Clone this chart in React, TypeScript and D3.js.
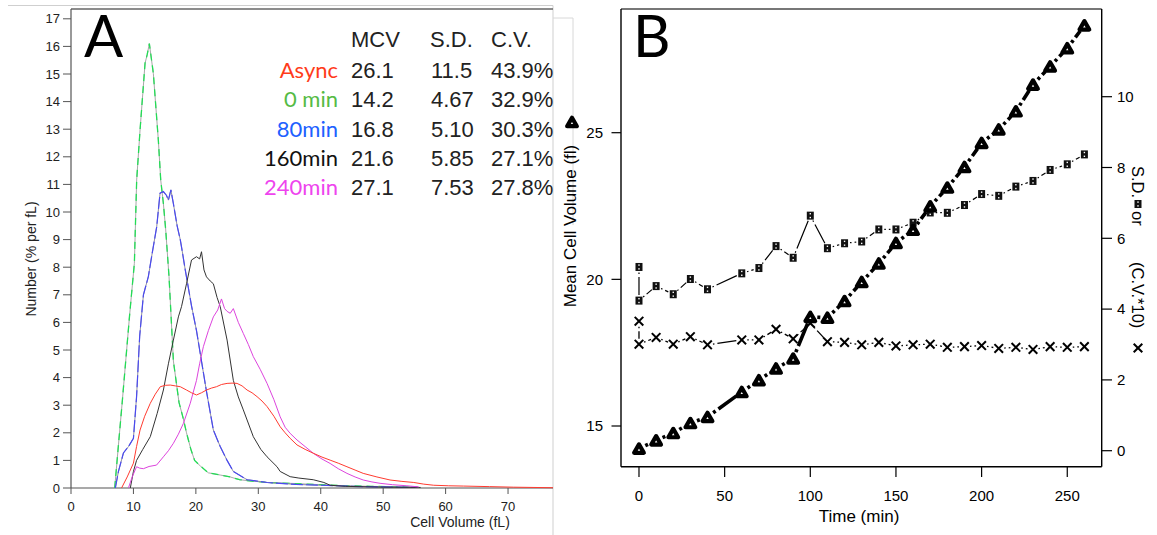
import React from "react";
import * as d3 from "d3";

// ---------- Panel A data: cell volume distributions (fL, % per fL) ----------
const asyncCurve: [number, number][] = [
  [8.1, 0], [9.0, 0.4], [10, 0.9], [10.5, 1.5], [11.06, 2.1], [11.8, 2.6], [12.7, 3.07], [13.5, 3.4],
  [14.3, 3.67], [15.1, 3.72], [15.9, 3.73], [16.7, 3.7], [17.5, 3.67], [18.5, 3.55], [19.3, 3.45],
  [20.1, 3.37], [20.9, 3.45], [21.7, 3.55], [22.5, 3.62], [23.3, 3.67], [24.1, 3.75], [25, 3.79],
  [25.8, 3.8], [26.6, 3.79], [27.4, 3.7], [28.2, 3.55], [29, 3.45], [29.8, 3.31], [30.6, 3.15],
  [31.4, 2.95], [32.5, 2.6], [33.5, 2.22], [34.3, 2.0], [35.1, 1.8], [36.2, 1.56], [37.5, 1.4],
  [38.8, 1.26], [40.2, 1.12], [41.5, 1.01], [42.8, 0.9], [44.2, 0.77], [45.5, 0.65], [46.8, 0.53],
  [49, 0.4], [51.1, 0.29], [53, 0.24], [54.9, 0.2], [56.5, 0.14], [58.1, 0.1], [60.5, 0.08],
  [62.9, 0.07], [67, 0.05], [70.9, 0.03], [74, 0.02], [77.2, 0.01],
];
const min0Curve: [number, number][] = [
  [7.0, 0], [7.6, 1.56], [8.2, 3.1], [8.8, 4.7], [9.4, 6.3], [10.15, 8.14], [10.52, 11.16],
  [11.06, 12.97], [11.5, 14.3], [11.86, 15.39], [12.2, 15.7], [12.55, 16.1], [13.19, 15.02],
  [13.99, 12.6], [14.37, 11.16], [14.8, 10.3], [15.17, 9.35], [15.7, 7.66], [16.4, 4.6], [17.3, 3.1],
  [18.0, 2.5], [18.5, 2.0], [19.2, 1.4], [19.8, 1.0], [20.7, 0.8], [22.0, 0.55], [23.9, 0.47],
  [25.5, 0.4], [27, 0.3], [29, 0.25], [31.4, 0.2], [34, 0.18], [37, 0.15], [40, 0.12], [44, 0.08],
  [48, 0.06], [52, 0.04], [55.5, 0.03],
];
const min80Curve: [number, number][] = [
  [7.1, 0], [7.6, 0.6], [8.4, 1.27], [9.2, 1.5], [10.0, 1.8], [10.5, 3.3], [11.0, 5.5], [11.6, 7.0],
  [12.39, 7.66], [13.0, 8.5], [13.73, 9.47], [14.26, 10.68], [14.8, 10.74], [15.3, 10.6], [15.6, 10.43],
  [16.0, 10.8], [16.4, 10.3], [17.0, 9.5], [17.5, 9.0], [17.8, 8.6], [18.3, 7.9], [19.3, 6.6],
  [20.1, 5.7], [20.9, 4.6], [21.7, 3.5], [22.8, 2.1], [23.9, 1.5], [25, 1.0], [26, 0.6], [28.2, 0.3],
  [31.4, 0.2], [36, 0.13], [40, 0.1], [45, 0.06], [50, 0.04], [55.5, 0.02],
];
const min160Curve: [number, number][] = [
  [9.5, 0], [10.0, 0.6], [10.5, 1.0], [11.5, 1.4], [12.7, 1.86], [13.8, 2.7], [14.8, 3.55], [15.6, 4.5],
  [16.4, 5.36], [17.2, 6.2], [17.7, 6.57], [18.5, 7.4], [19.3, 8.26], [20.1, 8.38], [20.6, 8.3],
  [20.9, 8.56], [21.3, 7.9], [21.7, 7.65], [22.3, 7.5], [22.8, 7.4], [23.4, 6.9], [23.9, 6.57],
  [25, 5.36], [26, 3.9], [26.8, 3.3], [27.6, 2.83], [29.2, 1.86], [30.4, 1.4], [31.4, 1.13], [33, 0.77],
  [33.5, 0.6], [35.1, 0.41], [36.5, 0.36], [38.8, 0.3], [40.5, 0.2], [41.5, 0.1], [44, 0.06], [50, 0.03],
  [56, 0.02],
];
const min240Curve: [number, number][] = [
  [9.2, 0], [9.8, 0.4], [10.5, 0.77], [11.0, 0.72], [11.6, 0.7], [12.5, 0.78], [13.7, 0.83], [14.8, 1.13],
  [15.6, 1.35], [16.4, 1.62], [17.2, 1.95], [18.0, 2.34], [19.1, 3.07], [20.1, 3.9], [20.6, 4.5],
  [21.2, 5.12], [22.0, 5.7], [22.8, 6.2], [23.5, 6.45], [24.1, 6.85], [24.6, 6.5], [25.0, 6.4],
  [25.5, 6.33], [26.0, 6.5], [26.8, 6.0], [27.6, 5.6], [28.4, 5.2], [29.2, 4.76], [30.3, 4.3],
  [31.4, 3.79], [32.5, 3.2], [33.5, 2.58], [34.3, 2.2], [35.1, 1.98], [36.2, 1.74], [37.5, 1.5],
  [38.8, 1.26], [40.2, 1.05], [41.5, 0.89], [42.8, 0.7], [44.2, 0.53], [45.5, 0.4], [46.8, 0.29],
  [48.2, 0.22], [49.5, 0.17], [51.5, 0.12], [53.8, 0.08], [55.7, 0.04],
];

const groupLabels = ["Async", "0 min", "80min", "160min", "240min"];
const groupColors = ["#ff3b1a", "#55bb44", "#2060ff", "#111111", "#ee44ee"];
const tableHeaders = ["MCV", "S.D.", "C.V."];
const mcvTable = ["26.1", "14.2", "16.8", "21.6", "27.1"];
const sdTable = ["11.5", "4.67", "5.10", "5.85", "7.53"];
const cvTable = ["43.9%", "32.9%", "30.3%", "27.1%", "27.8%"];

const xTicksA = [0, 10, 20, 30, 40, 50, 60, 70];
const yTicksA = d3.range(0, 18);

// ---------- Panel B data: time course ----------
const mcvTimes = [0, 10, 20, 30, 40, 60, 70, 80, 90, 100, 110, 120, 130, 140, 150, 160, 170, 180, 190, 200, 210, 220, 230, 240, 250, 260];
const mcvValues = [14.23, 14.51, 14.76, 15.1, 15.31, 16.16, 16.56, 16.96, 17.3, 18.72, 18.69, 19.26, 19.91, 20.54, 21.24, 21.69, 22.49, 23.13, 23.83, 24.65, 25.11, 25.73, 26.64, 27.26, 27.88, 28.66];
const sdTimes = [0, 0, 10, 20, 30, 40, 60, 70, 80, 90, 100, 110, 120, 130, 140, 150, 160, 170, 180, 190, 200, 210, 220, 230, 240, 250, 260];
const sdValues = [5.19, 4.24, 4.65, 4.42, 4.85, 4.56, 5.01, 5.16, 5.78, 5.45, 6.64, 5.72, 5.86, 5.91, 6.25, 6.25, 6.44, 6.73, 6.72, 6.94, 7.25, 7.2, 7.46, 7.62, 7.93, 8.09, 8.37];
const cv10Values = [3.66, 3.01, 3.2, 3.01, 3.22, 2.99, 3.13, 3.13, 3.43, 3.16, 3.6, 3.08, 3.06, 2.99, 3.06, 2.96, 2.99, 3.01, 2.92, 2.94, 2.97, 2.89, 2.92, 2.86, 2.94, 2.92, 2.94];

const xTicksB = [0, 50, 100, 150, 200, 250];
const yTicksBLeft = [15, 20, 25];
const yTicksBRight = [0, 2, 4, 6, 8, 10];

const SANS = "'Liberation Sans', Arial, sans-serif";
const GILL = "Lato, 'Open Sans', sans-serif";

type P = { x: number; y: number };

function gappedSegments(pts: P[], gap: number) {
  const out: { x1: number; y1: number; x2: number; y2: number }[] = [];
  for (let i = 0; i < pts.length - 1; i++) {
    const a = pts[i], b = pts[i + 1];
    const dx = b.x - a.x, dy = b.y - a.y;
    const len = Math.hypot(dx, dy);
    if (len <= 2 * gap + 0.5) continue;
    const ux = dx / len, uy = dy / len;
    out.push({ x1: a.x + ux * gap, y1: a.y + uy * gap, x2: b.x - ux * gap, y2: b.y - uy * gap });
  }
  return out;
}

function Triangle({ x, y }: { x: number; y: number }) {
  const r = 5.6;
  const cy = y + 1.4;
  const pts = [
    [x, cy - r],
    [x + r * 0.866, cy + r * 0.5],
    [x - r * 0.866, cy + r * 0.5],
  ];
  return (
    <polygon
      points={pts.map((p) => p.join(",")).join(" ")}
      fill="none"
      stroke="#000"
      strokeWidth={4.2}
      strokeLinejoin="round"
    />
  );
}

function SquareMark({ x, y }: { x: number; y: number }) {
  const w = 7, h = 8;
  return (
    <g>
      <rect x={x - w / 2} y={y - h / 2} width={w} height={h} fill="#111" />
      <rect x={x - 0.7} y={y - 2.6} width={1.4} height={1.4} fill="#fff" />
      <rect x={x - 0.7} y={y + 1.2} width={1.4} height={1.4} fill="#fff" />
    </g>
  );
}

function Cross({ x, y }: { x: number; y: number }) {
  const h = 4.3;
  return (
    <g stroke="#000" strokeWidth={2}>
      <line x1={x - h} y1={y - h} x2={x + h} y2={y + h} />
      <line x1={x + h} y1={y - h} x2={x - h} y2={y + h} />
    </g>
  );
}

export default function App() {
  // Panel A scales
  const xA = d3.scaleLinear().domain([0, 77.2]).range([71, 553]);
  const yA = d3.scaleLinear().domain([0, 17]).range([488, 18.8]);
  const lineA = d3
    .line<[number, number]>()
    .x((d) => xA(d[0]))
    .y((d) => yA(d[1]));

  // Panel B scales
  const xB = d3.scaleLinear().domain([-10.5, 270.1]).range([621, 1101.7]);
  const yBL = d3.scaleLinear().domain([15, 25]).range([426, 132.7]);
  const yBR = d3.scaleLinear().domain([0, 10]).range([450.7, 96.7]);

  const mcvPts = mcvTimes.map((t, i) => ({ x: xB(t), y: yBL(mcvValues[i]) }));
  const sdPts = sdTimes.map((t, i) => ({ x: xB(t), y: yBR(sdValues[i]) }));
  const cvPts = sdTimes.map((t, i) => ({ x: xB(t), y: yBR(cv10Values[i]) }));

  const rowBase = [78, 107, 136.5, 166, 195];

  return (
    <svg
      width={1157}
      height={535}
      style={{ position: "absolute", left: 0, top: 0, background: "#fff" }}
    >
      <rect x={0} y={0} width={1157} height={535} fill="#fff" />

      {/* ---------------- Panel A ---------------- */}
      <line x1={8} y1={5.5} x2={553} y2={5.5} stroke="#cfcfcf" strokeWidth={1} />
      <line x1={553} y1={5.5} x2={553} y2={535} stroke="#cfcfcf" strokeWidth={1} />
      <line x1={553} y1={18} x2={573} y2={18} stroke="#d8d8d8" strokeWidth={1} />
      <line x1={573} y1={18} x2={573} y2={225} stroke="#d8d8d8" strokeWidth={1} />
      <line x1={71} y1={9} x2={553} y2={9} stroke="#666" strokeWidth={1.5} />
      <line x1={71} y1={9} x2={71} y2={488} stroke="#555" strokeWidth={1.2} />
      <line x1={71} y1={488} x2={553} y2={488} stroke="#555" strokeWidth={1.2} />

      {yTicksA.map((t) => (
        <g key={"ya" + t}>
          <line x1={63} x2={71} y1={yA(t)} y2={yA(t)} stroke="#555" />
          <text x={60} y={yA(t)} dy="0.35em" textAnchor="end" fontFamily={SANS} fontSize={13} fill="#222">
            {t}
          </text>
        </g>
      ))}
      {xTicksA.map((t) => (
        <g key={"xa" + t}>
          <line x1={xA(t)} x2={xA(t)} y1={488} y2={494} stroke="#555" />
          <text x={xA(t)} y={511} textAnchor="middle" fontFamily={SANS} fontSize={13} fill="#222">
            {t}
          </text>
        </g>
      ))}
      <text x={460} y={527} textAnchor="middle" fontFamily={SANS} fontSize={14} fill="#222">
        Cell Volume (fL)
      </text>
      <text
        transform="translate(36,259) rotate(-90)"
        textAnchor="middle"
        fontFamily={SANS}
        fontSize={14}
        fill="#222"
      >
        Number (% per fL)
      </text>

      {/* curves */}
      <path d={lineA(min0Curve) || ""} fill="none" stroke="#a8a8a8" strokeWidth={1} />
      <path d={lineA(min0Curve) || ""} fill="none" stroke="#22dd55" strokeWidth={1.3} strokeDasharray="7,5" />
      <path d={lineA(min80Curve) || ""} fill="none" stroke="#9090a0" strokeWidth={1} />
      <path d={lineA(min80Curve) || ""} fill="none" stroke="#4a4af0" strokeWidth={1.2} strokeDasharray="12,3" />
      <path d={lineA(min160Curve) || ""} fill="none" stroke="#333" strokeWidth={1} />
      <path d={lineA(min240Curve) || ""} fill="none" stroke="#dd44dd" strokeWidth={1} />
      <path d={lineA(asyncCurve) || ""} fill="none" stroke="#ff3b30" strokeWidth={1} />

      {/* letter A */}
      <text x={84} y={57} fontFamily={GILL} fontSize={58} fill="#000">
        A
      </text>

      {/* table */}
      {tableHeaders.map((h, i) => (
        <text key={h} x={[351, 430, 491][i]} y={47} fontFamily={SANS} fontSize={22} fill="#222">
          {h}
        </text>
      ))}
      {groupLabels.map((g, i) => (
        <g key={g}>
          <text x={338} y={rowBase[i]} textAnchor="end" fontFamily={GILL} fontSize={22} fill={groupColors[i]}>
            {g}
          </text>
          <text x={351} y={rowBase[i]} fontFamily={SANS} fontSize={22} fill="#222">
            {mcvTable[i]}
          </text>
          <text x={431} y={rowBase[i]} fontFamily={SANS} fontSize={22} fill="#222">
            {sdTable[i]}
          </text>
          <text x={491} y={rowBase[i]} fontFamily={SANS} fontSize={22} fill="#222">
            {cvTable[i]}
          </text>
        </g>
      ))}

      {/* ---------------- Panel B ---------------- */}
      <line x1={621} y1={9} x2={1101.7} y2={9} stroke="#777" strokeWidth={2} />
      <line x1={621} y1={9} x2={621} y2={466.7} stroke="#000" strokeWidth={1.4} />
      <line x1={1101.7} y1={9} x2={1101.7} y2={466.7} stroke="#000" strokeWidth={1.4} />
      <line x1={621} y1={466.7} x2={1101.7} y2={466.7} stroke="#000" strokeWidth={1.4} />

      {xTicksB.map((t) => (
        <g key={"xb" + t}>
          <line x1={xB(t)} x2={xB(t)} y1={466.7} y2={477} stroke="#000" strokeWidth={1.2} />
          <text x={xB(t)} y={501} textAnchor="middle" fontFamily={SANS} fontSize={15} fill="#000">
            {t}
          </text>
        </g>
      ))}
      {yTicksBLeft.map((t) => (
        <g key={"ybl" + t}>
          <line x1={611.5} x2={621} y1={yBL(t)} y2={yBL(t)} stroke="#000" strokeWidth={1.2} />
          <text x={603} y={yBL(t)} dy="0.35em" textAnchor="end" fontFamily={SANS} fontSize={15} fill="#000">
            {t}
          </text>
        </g>
      ))}
      {yTicksBRight.map((t) => (
        <g key={"ybr" + t}>
          <line x1={1101.7} x2={1112} y1={yBR(t)} y2={yBR(t)} stroke="#000" strokeWidth={1.2} />
          <text x={1117} y={yBR(t)} dy="0.35em" textAnchor="start" fontFamily={SANS} fontSize={15} fill="#000">
            {t}
          </text>
        </g>
      ))}
      <text x={859} y={522} textAnchor="middle" fontFamily={SANS} fontSize={17} fill="#000">
        Time (min)
      </text>
      <text
        transform="translate(576,226) rotate(-90)"
        textAnchor="middle"
        fontFamily={SANS}
        fontSize={17}
        fill="#000"
      >
        Mean Cell Volume (fl)
      </text>
      <Triangle x={572} y={122} />

      <g fontFamily={SANS} fontSize={16.5} fill="#000">
        <text transform="translate(1132,166) rotate(90)">S.D.</text>
        <text transform="translate(1132,211) rotate(90)">or</text>
        <text transform="translate(1132,262) rotate(90)">(C.V.*10)</text>
      </g>
      <SquareMark x={1138} y={204} />
      <Cross x={1138} y={348} />

      {/* B letter */}
      <text x={633} y={57} fontFamily={GILL} fontSize={58} fill="#000">
        B
      </text>

      {/* lines */}
      {gappedSegments(cvPts, 5.5).map((s, i) => (
        <line key={"cvl" + i} {...s} stroke="#000" strokeWidth={1.3} strokeDasharray="1.5,3,40,3" />
      ))}
      {gappedSegments(sdPts, 5.5).map((s, i) => (
        <line key={"sdl" + i} {...s} stroke="#000" strokeWidth={1.2} strokeDasharray="1.5,3,40,3" />
      ))}
      {gappedSegments(mcvPts, 7).map((s, i) => (
        <line key={"mcvl" + i} {...s} stroke="#000" strokeWidth={3.6} strokeDasharray="3,3.5,40,4" />
      ))}

      {/* markers */}
      {cvPts.map((p, i) => (
        <Cross key={"cv" + i} x={p.x} y={p.y} />
      ))}
      {sdPts.map((p, i) => (
        <SquareMark key={"sd" + i} x={p.x} y={p.y} />
      ))}
      {mcvPts.map((p, i) => (
        <Triangle key={"mcv" + i} x={p.x} y={p.y} />
      ))}
    </svg>
  );
}
